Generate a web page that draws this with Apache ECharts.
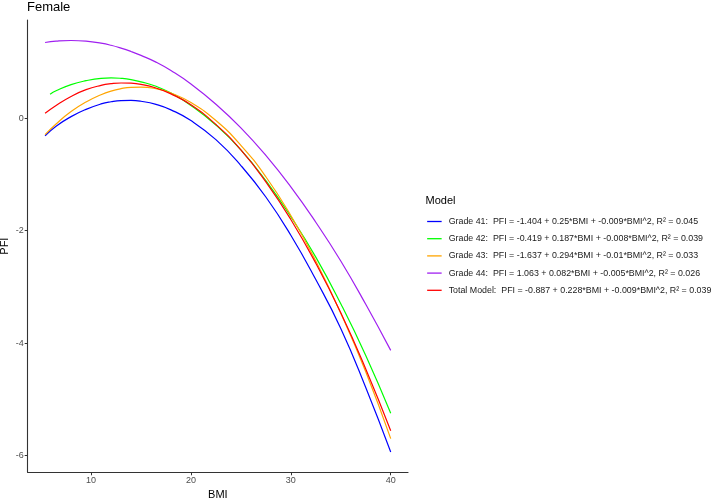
<!DOCTYPE html>
<html>
<head>
<meta charset="utf-8">
<script src="https://cdn.jsdelivr.net/npm/echarts@6/dist/echarts.min.js"></script>
<style>
  html, body { margin: 0; padding: 0; background: #fff; }
  #chart { width: 714px; height: 499px; }
</style>
</head>
<body>
<div id="chart"></div>
<script>
// BMI sample points
var bmi = [5.4, 6.5, 8, 9.5, 11, 12, 13, 14, 15, 16.5, 18, 20, 22.5, 25, 27.5, 30, 32.5, 35, 37.5, 40];
var bmiG42 = [5.9, 6.5, 8, 9.5, 11, 12, 13, 14, 15, 16.5, 18, 20, 22.5, 25, 27.5, 30, 32.5, 35, 37.5, 40];

var grade41 = [-0.31, -0.14, 0.03, 0.16, 0.256, 0.295, 0.316, 0.319, 0.304, 0.248, 0.151, -0.04, -0.38, -0.84, -1.40, -2.08, -2.87, -3.74, -4.79, -5.94];
var grade42 = [0.43, 0.49, 0.60, 0.67, 0.712, 0.72, 0.712, 0.69, 0.65, 0.57, 0.45, 0.23, -0.12, -0.56, -1.11, -1.75, -2.47, -3.30, -4.22, -5.25];
var grade43 = [-0.29, -0.10, 0.12, 0.29, 0.42, 0.485, 0.528, 0.552, 0.556, 0.526, 0.451, 0.28, -0.04, -0.48, -1.04, -1.73, -2.54, -3.47, -4.51, -5.70];
var grade44 = [1.35, 1.373, 1.385, 1.373, 1.337, 1.30, 1.25, 1.19, 1.12, 1.00, 0.85, 0.61, 0.25, -0.17, -0.66, -1.22, -1.85, -2.54, -3.31, -4.13];
var total = [0.09, 0.23, 0.39, 0.51, 0.586, 0.616, 0.629, 0.625, 0.604, 0.539, 0.435, 0.24, -0.11, -0.56, -1.13, -1.80, -2.58, -3.46, -4.46, -5.56];

var names = [
    'Grade 41:  PFI = -1.404 + 0.25*BMI + -0.009*BMI^2, R² = 0.045',
    'Grade 42:  PFI = -0.419 + 0.187*BMI + -0.008*BMI^2, R² = 0.039',
    'Grade 43:  PFI = -1.637 + 0.294*BMI + -0.01*BMI^2, R² = 0.033',
    'Grade 44:  PFI = 1.063 + 0.082*BMI + -0.005*BMI^2, R² = 0.026',
    'Total Model:  PFI = -0.887 + 0.228*BMI + -0.009*BMI^2, R² = 0.039'
];
var colors = ['#0000FF', '#00FF00', '#FFA500', '#A020F0', '#FF0000'];
var xTicks = [10, 20, 30, 40];
var yTicks = [-6, -4, -2, 0];

var font = 'Liberation Sans';

function pairs(xs, ys) {
    var out = [];
    for (var i = 0; i < xs.length; i++) out.push([xs[i], ys[i]]);
    return out;
}

var chart = echarts.init(document.getElementById('chart'));

var seriesData = [
    pairs(bmi, grade41),
    pairs(bmiG42, grade42),
    pairs(bmi, grade43),
    pairs(bmi, grade44),
    pairs(bmi, total)
];

var series = seriesData.map(function(d, i) {
    return {
        name: names[i],
        type: 'line',
        data: d,
        smooth: true,
        symbol: 'none',
        lineStyle: { color: colors[i], width: 1.2 },
        itemStyle: { color: colors[i] },
        z: 2
    };
});

var option = {
    animation: false,
    backgroundColor: '#fff',
    color: colors,
    title: [{
        text: 'Female',
        left: 27,
        top: 1,
        padding: 0,
        textStyle: { fontFamily: font, fontSize: 13, fontWeight: 'normal', color: '#000' }
    }, {
        text: 'Model',
        left: 425.5,
        top: 195,
        padding: 0,
        textStyle: { fontFamily: font, fontSize: 11, fontWeight: 'normal', color: '#000' }
    }],
    legend: {
        orient: 'vertical',
        left: 426.5,
        top: 216,
        padding: 0,
        itemWidth: 14.5,
        itemHeight: 10,
        itemGap: 6.2,
        itemStyle: { opacity: 0 },
        lineStyle: { width: 1.3 },
        textStyle: { fontFamily: font, fontSize: 8.85, color: '#1a1a1a', padding: [0, 0, 0, 2], lineHeight: 11 },
        data: names
    },
    grid: {
        left: 27.7,
        right: 306,
        top: 20,
        bottom: 26.7,
        containLabel: false,
        outerBoundsMode: 'none'
    },
    xAxis: {
        type: 'value',
        min: 3.66,
        max: 41.73,
        name: 'BMI',
        nameLocation: 'middle',
        nameGap: 17,
        nameMoveOverlap: false,
        nameTextStyle: { fontFamily: font, fontSize: 11, color: '#000' },
        axisLine: { show: true, onZero: false, lineStyle: { color: '#333', width: 1.1 } },
        axisTick: { show: true, length: 3, lineStyle: { color: '#333' }, customValues: xTicks },
        axisLabel: { fontFamily: font, fontSize: 9, color: '#4d4d4d', margin: 4, customValues: xTicks },
        splitLine: { show: false }
    },
    yAxis: {
        type: 'value',
        min: -6.3,
        max: 1.75,
        name: 'PFI',
        nameLocation: 'middle',
        nameGap: 17,
        nameRotate: 90,
        nameMoveOverlap: false,
        nameTextStyle: { fontFamily: font, fontSize: 11, color: '#000' },
        axisLine: { show: true, onZero: false, lineStyle: { color: '#333', width: 1.1 } },
        axisTick: { show: true, length: 3, lineStyle: { color: '#333' }, customValues: yTicks },
        axisLabel: { fontFamily: font, fontSize: 9, color: '#4d4d4d', margin: 4, customValues: yTicks },
        splitLine: { show: false }
    },
    series: series
};

chart.setOption(option);
</script>
</body>
</html>
